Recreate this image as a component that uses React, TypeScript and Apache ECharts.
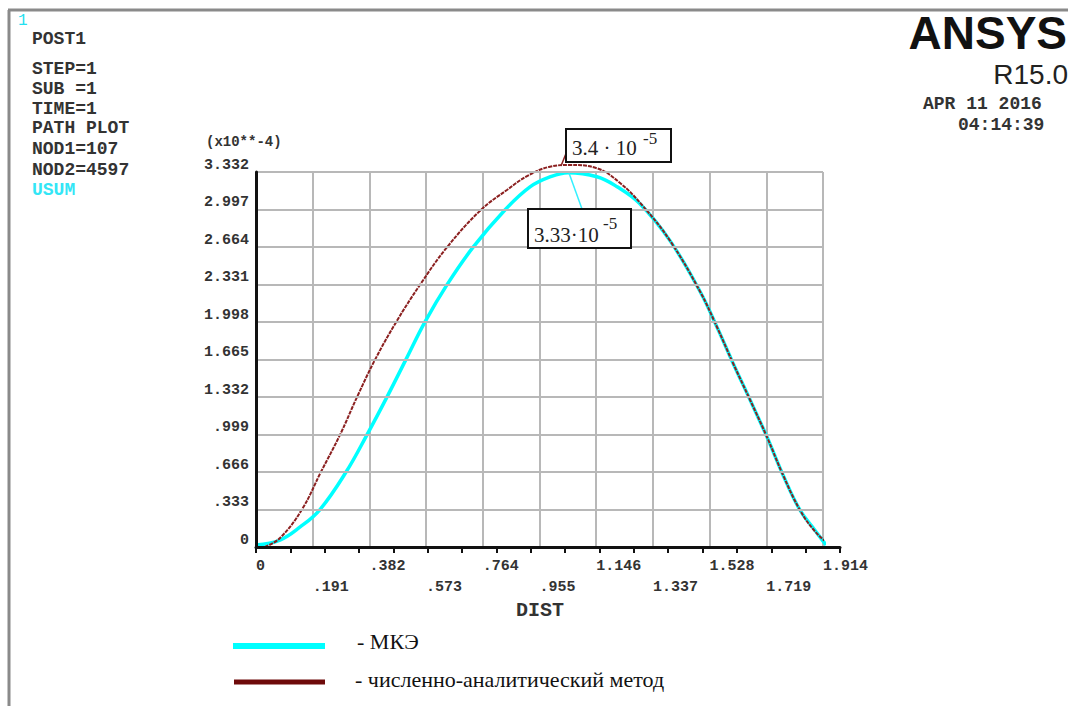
import React, { useEffect, useRef } from "react";
import * as echarts from "echarts";

const xTickLabels = [
  "0", ".191", ".382", ".573", ".764", ".955", "1.146", "1.337", "1.528", "1.719", "1.914",
];
const yTickLabels = [
  "0", ".333", ".666", ".999", "1.332", "1.665", "1.998", "2.331", "2.664", "2.997", "3.332",
];
const X_STEP = 0.1914;
const Y_STEP = 0.3332;

// МКЭ (FEM) curve, USUM x10^-4
const femX = [0, 0.081, 0.149, 0.216, 0.304, 0.375, 0.442, 0.506, 0.57, 0.645, 0.733, 0.841, 0.925, 0.992, 1.053, 1.151, 1.219, 1.296, 1.398, 1.499, 1.556, 1.61, 1.668, 1.725, 1.779, 1.836, 1.886, 1.924];
const femY = [0.018, 0.062, 0.178, 0.333, 0.666, 0.999, 1.332, 1.665, 1.998, 2.331, 2.664, 2.997, 3.2, 3.288, 3.326, 3.29, 3.201, 3.05, 2.72, 2.27, 1.955, 1.635, 1.306, 0.977, 0.64, 0.329, 0.151, 0.018];

// численно-аналитический метод
const anaX = [0.03, 0.081, 0.155, 0.219, 0.284, 0.341, 0.402, 0.473, 0.554, 0.645, 0.76, 0.847, 0.918, 0.992, 1.06, 1.151, 1.229, 1.306, 1.398, 1.499, 1.556, 1.61, 1.668, 1.725, 1.779, 1.836, 1.886, 1.944];
const anaY = [0, 0.08, 0.333, 0.666, 0.999, 1.332, 1.665, 1.998, 2.331, 2.664, 2.997, 3.172, 3.3, 3.379, 3.394, 3.365, 3.234, 3.03, 2.72, 2.27, 1.955, 1.635, 1.306, 0.977, 0.64, 0.329, 0.142, 0];

const legendNames = ["- МКЭ", "- численно-аналитический метод"];
const infoLines = ["POST1", "STEP=1", "SUB =1", "TIME=1", "PATH PLOT", "NOD1=107", "NOD2=4597"];
const infoY = [39, 69, 89, 109, 128, 149, 170];

const MONO = "Liberation Mono, DejaVu Sans Mono, monospace";
const SERIF = "Liberation Serif, DejaVu Serif, serif";
const SANS = "Liberation Sans, Arial, sans-serif";

function txt(text: string, x: number, y: number, font: string, fill: string, align = "left", va = "middle") {
  return {
    type: "text",
    style: { text, x, y, font, fill, textAlign: align, textVerticalAlign: va, align, verticalAlign: va },
    z: 100,
  };
}

export default function App() {
  const ref = useRef<HTMLDivElement>(null);
  useEffect(() => {
    if (!ref.current) return;
    const chart = echarts.init(ref.current, null, { renderer: "svg" });
    const femData = femX.map((x, i) => [x, femY[i]]);
    const anaData = anaX.map((x, i) => [x, anaY[i]]);
    const tickFont = { fontFamily: MONO, fontWeight: "bold" as const, fontSize: 15, color: "#333" };

    const graphics: any[] = [
      { type: "line", shape: { x1: 8, y1: 10, x2: 1068, y2: 10 }, style: { stroke: "#8a8a8a", lineWidth: 3 } },
      { type: "line", shape: { x1: 9, y1: 10, x2: 9, y2: 706 }, style: { stroke: "#8a8a8a", lineWidth: 3 } },
      txt("1", 18, 21, `16px ${MONO}`, "#22e0f0"),
      ...infoLines.map((s, i) => txt(s, 32, infoY[i], `bold 18px ${MONO}`, "#333")),
      txt("USUM", 32, 190, `bold 18px ${MONO}`, "#33e6f6"),
      txt("ANSYS", 1067, 33, `bold 46px ${SANS}`, "#111", "right"),
      txt("R15.0", 1068, 74, `28px ${SANS}`, "#222", "right"),
      txt("APR 11 2016", 923, 104, `bold 18px ${MONO}`, "#333"),
      txt("04:14:39", 958, 125, `bold 18px ${MONO}`, "#333"),
      txt("(x10**-4)", 206, 142, `bold 14px ${MONO}`, "#333"),
      txt("DIST", 540, 610, `bold 20px ${MONO}`, "#333", "center"),
      // annotation 1 (analytic peak)
      { type: "line", shape: { x1: 561, y1: 166, x2: 567, y2: 151 }, style: { stroke: "#8b2020", lineWidth: 1.5 }, z: 90 },
      { type: "rect", shape: { x: 566, y: 129, width: 105, height: 33 }, style: { fill: "#fff", stroke: "#111", lineWidth: 2 }, z: 95 },
      txt("3.4 · 10", 572, 148, `21px ${SERIF}`, "#222"),
      txt("-5", 643, 138, `17px ${SERIF}`, "#222"),
      // annotation 2 (FEM peak)
      { type: "line", shape: { x1: 569, y1: 173, x2: 582, y2: 209 }, style: { stroke: "#33f0ff", lineWidth: 1.5 }, z: 90 },
      { type: "rect", shape: { x: 528, y: 209, width: 103, height: 39 }, style: { fill: "#fff", stroke: "#111", lineWidth: 2 }, z: 95 },
      txt("3.33·10", 534, 235, `21px ${SERIF}`, "#222"),
      txt("-5", 603, 223, `17px ${SERIF}`, "#222"),
      // legend
      { type: "line", shape: { x1: 233, y1: 646, x2: 325, y2: 646 }, style: { stroke: "#00ffff", lineWidth: 6 } },
      txt(legendNames[0], 357, 641, `22px ${SERIF}`, "#111"),
      { type: "line", shape: { x1: 234, y1: 682, x2: 325, y2: 682 }, style: { stroke: "#6e0a0a", lineWidth: 5 } },
      txt(legendNames[1], 355, 679, `22px ${SERIF}`, "#111"),
    ];

    chart.setOption({
      animation: false,
      backgroundColor: "#fff",
      grid: [
        { left: 256, top: 172, width: 567, height: 375 },
        { left: 256, top: 172, width: 584, height: 375 },
      ],
      xAxis: [
        {
          type: "value",
          gridIndex: 0,
          min: 0,
          max: 1.914,
          interval: X_STEP,
          axisLine: { show: false },
          axisTick: { show: false },
          splitLine: { show: true, lineStyle: { color: "#b8b8b8", width: 2 } },
          axisLabel: {
            ...tickFont,
            align: "left",
            margin: 9,
            lineHeight: 21,
            showMinLabel: true,
            showMaxLabel: true,
            formatter: (v: number) => {
              const i = Math.round(v / X_STEP);
              const s = xTickLabels[i] ?? "";
              return i % 2 ? "\n" + s : s;
            },
          },
        },
        {
          type: "value",
          gridIndex: 1,
          min: 0,
          max: 17,
          interval: 1,
          axisLine: { show: true, lineStyle: { color: "#111", width: 3 } },
          axisTick: { show: true, length: 6, lineStyle: { color: "#111", width: 2 } },
          axisLabel: { show: false },
          splitLine: { show: false },
          z: 10,
        },
      ],
      yAxis: [
        {
          type: "value",
          gridIndex: 0,
          min: 0,
          max: 3.332,
          interval: Y_STEP,
          axisLine: { show: true, onZero: false, lineStyle: { color: "#111", width: 3 } },
          axisTick: { show: false },
          splitLine: { show: true, lineStyle: { color: "#b8b8b8", width: 2 } },
          axisLabel: {
            ...tickFont,
            margin: 7,
            verticalAlign: "bottom",
            lineHeight: 14,
            showMaxLabel: true,
            formatter: (v: number) => yTickLabels[Math.round(v / Y_STEP)] ?? "",
          },
          z: 10,
        },
        { type: "value", gridIndex: 1, min: 0, max: 1, show: false },
      ],
      series: [
        {
          name: legendNames[0],
          type: "line",
          xAxisIndex: 0,
          yAxisIndex: 0,
          data: femData,
          smooth: 0.4,
          showSymbol: false,
          clip: false,
          lineStyle: { color: "#00ffff", width: 3.5 },
          z: 3,
        },
        {
          name: legendNames[1],
          type: "line",
          xAxisIndex: 0,
          yAxisIndex: 0,
          data: anaData,
          smooth: 0.4,
          showSymbol: false,
          clip: false,
          lineStyle: { color: "#8b2020", width: 2, type: [4, 1] },
          z: 4,
        },
      ],
      graphic: graphics,
    });
    return () => chart.dispose();
  }, []);
  return (
    <div
      ref={ref}
      style={{ position: "absolute", left: 0, top: 0, width: 1068, height: 706, background: "#fff" }}
    />
  );
}
